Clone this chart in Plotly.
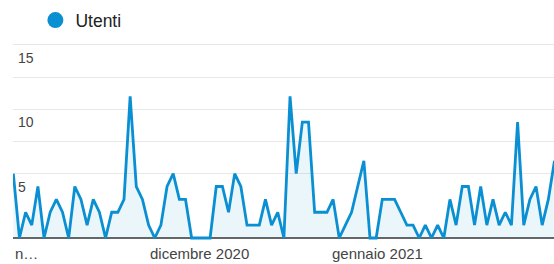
import plotly.graph_objects as go

# Daily users (Utenti)
day_index = list(range(89))
utenti = [5, 0, 2, 1, 4, 0, 2, 3, 2, 0,
          4, 3, 1, 3, 2, 0, 2, 2, 3, 11,
          4, 3, 1, 0, 1, 4, 5, 3, 3, 0,
          0, 0, 0, 4, 4, 2, 5, 4, 1, 1,
          1, 3, 1, 2, 0, 11, 5, 9, 9, 2,
          2, 2, 3, 0, 1, 2, 4, 6, 0, 0,
          3, 3, 3, 2, 1, 1, 0, 1, 0, 1,
          0, 3, 1, 4, 4, 1, 4, 1, 3, 1,
          2, 1, 9, 1, 3, 4, 1, 3, 6]

x_tick_pos = [0.0, 30.28, 59.22]
x_tick_anchor = ["left", "center", "center"]
x_tick_text = ["n…", "dicembre 2020", "gennaio 2021"]
y_grid_vals = [5, 7.5, 10, 12.5, 15]
y_label_vals = [5, 10, 15]
y_label_text = ["5", "10", "15"]

BLUE = "#0a8fd3"
FONT = "Liberation Sans, Arial, sans-serif"

fig = go.Figure()
fig.add_trace(go.Scatter(
    x=day_index, y=utenti, mode="lines", name="Utenti",
    line=dict(color=BLUE, width=2.8),
    fill="tozeroy", fillcolor="rgba(5,141,199,0.08)",
    showlegend=False, hoverinfo="skip"))
fig.add_trace(go.Scatter(
    x=[None], y=[None], mode="markers", name="Utenti",
    marker=dict(color=BLUE, size=16, symbol="circle"),
    showlegend=True))

annotations = []
for xv, anc, txt in zip(x_tick_pos, x_tick_anchor, x_tick_text):
    annotations.append(dict(x=xv, xref="x", y=0, yref="paper", text=txt,
                            showarrow=False, xanchor=anc, yanchor="middle",
                            yshift=-13, font=dict(size=15, color="#444", family=FONT)))
for yv, txt in zip(y_label_vals, y_label_text):
    annotations.append(dict(x=0, xref="paper", y=yv, yref="y", text=txt,
                            showarrow=False, xanchor="left", yanchor="middle",
                            xshift=3, yshift=-13, font=dict(size=14, color="#444", family=FONT)))

fig.update_layout(
    width=554, height=264,
    margin=dict(l=13, r=0, t=0, b=24, autoexpand=False),
    paper_bgcolor="white", plot_bgcolor="white",
    font=dict(family=FONT, size=14, color="#444"),
    legend=dict(x=0.0414, xanchor="left", y=0.991, yanchor="top",
                orientation="h", font=dict(size=17.5, color="#222"),
                bgcolor="rgba(0,0,0,0)"),
    xaxis=dict(range=[-0.05, 87.92], showgrid=False, zeroline=False,
               automargin=False, showticklabels=False, ticks="",
               showline=False),
    yaxis=dict(range=[-0.155, 18.49], tickvals=y_grid_vals,
               automargin=False, showticklabels=False, ticks="",
               showgrid=True, gridcolor="#e8e8e8", gridwidth=1,
               zeroline=True, zerolinecolor="#666", zerolinewidth=2,
               showline=False),
    annotations=annotations,
)

fig.write_html("out.html", config={"displayModeBar": False},
               post_script="document.body.style.margin='0';document.body.style.overflow='hidden';")
